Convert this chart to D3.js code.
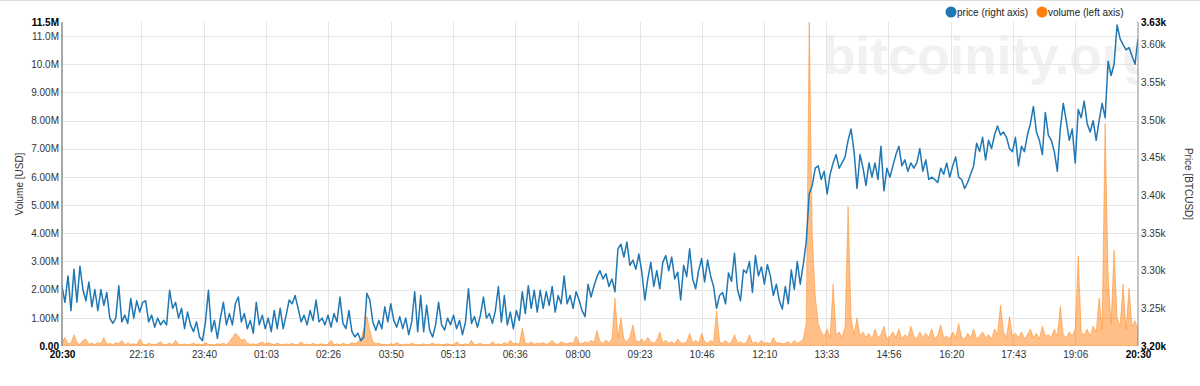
<!DOCTYPE html>
<html><head><meta charset="utf-8">
<script src="https://cdn.jsdelivr.net/npm/d3@7"></script>
<style>
html,body{margin:0;padding:0;background:#fff;}
svg{display:block;font-family:"Liberation Sans",Arial,sans-serif;}
</style></head><body>
<svg id="chart" width="1200" height="386"></svg>
<script>
// ---- data (one sample every 4 minutes, from 20:30 to 20:30 next day) ----
const stepMinutes = 4;
const timeTickLabels = ["20:30","22:16","23:40","01:03","02:26","03:50","05:13","06:36","08:00","09:23","10:46","12:10","13:33","14:56","16:20","17:43","19:06","20:30"];
const volumeTicks = [0,1e6,2e6,3e6,4e6,5e6,6e6,7e6,8e6,9e6,10e6,11e6,11.5e6];
const priceTicks = [3200,3250,3300,3350,3400,3450,3500,3550,3600,3630];
const legendLabels = ["price (right axis)","volume (left axis)"];

const price = [
3279,3258,3293,3247,3302,3258,3306,3275,3260,3285,3252,3275,3247,3275,3254,3271,3237,3230,3237,3280,
3232,3241,3230,3263,3237,3260,3245,3258,3260,3232,3241,3225,3237,3228,3234,3228,3274,3250,3258,3237,
3250,3223,3245,3228,3219,3232,3212,3207,3232,3274,3219,3234,3210,3237,3258,3228,3243,3228,3256,3265,
3232,3243,3223,3234,3217,3258,3228,3241,3223,3237,3219,3247,3223,3250,3223,3241,3261,3256,3267,3250,
3232,3241,3228,3247,3234,3261,3232,3237,3228,3241,3225,3243,3232,3265,3230,3223,3247,3219,3212,3217,
3207,3212,3270,3261,3232,3221,3234,3223,3252,3232,3256,3234,3225,3239,3223,3237,3215,3232,3272,3219,
3267,3219,3254,3221,3212,3228,3258,3228,3221,3237,3228,3241,3223,3234,3215,3232,3276,3230,3239,3225,
3241,3265,3237,3243,3230,3247,3279,3232,3267,3228,3245,3223,3247,3234,3272,3243,3280,3250,3274,3245,
3274,3250,3272,3254,3279,3245,3267,3256,3293,3256,3267,3250,3272,3261,3247,3239,3282,3265,3280,3292,
3300,3289,3296,3279,3289,3272,3329,3335,3318,3338,3307,3314,3302,3322,3298,3261,3289,3311,3279,3300,
3276,3311,3320,3300,3318,3289,3298,3261,3307,3292,3329,3289,3276,3300,3316,3285,3314,3293,3279,3250,
3267,3271,3256,3297,3286,3323,3275,3260,3301,3297,3312,3271,3320,3293,3305,3282,3308,3293,3267,3282,
3260,3249,3279,3256,3301,3275,3312,3282,3308,3338,3402,3413,3436,3439,3421,3432,3402,3428,3443,3454,
3436,3443,3451,3473,3488,3458,3409,3454,3436,3413,3443,3424,3443,3421,3465,3406,3436,3424,3439,3454,
3465,3439,3447,3432,3443,3436,3443,3462,3432,3447,3421,3424,3421,3417,3436,3428,3443,3424,3439,3451,
3424,3421,3409,3417,3428,3439,3469,3458,3477,3447,3473,3462,3480,3492,3480,3484,3477,3462,3458,3477,
3439,3465,3458,3480,3495,3518,3484,3473,3454,3510,3480,3473,3458,3432,3488,3522,3499,3473,3488,3443,
3514,3503,3525,3495,3484,3499,3473,3499,3522,3503,3578,3559,3574,3626,3608,3600,3593,3596,3585,3574,
3608
];

// volume in millions of USD
const volumeM = [
0.15,0.3,0.08,0.1,0.4,0.12,0.05,0.2,0.25,0.06, 0.1,0.05,0.12,0.08,0.3,0.06,0.1,0.04,0.12,0.08,
0.2,0.05,0.1,0.06,0.08,0.05,0.25,0.07,0.04,0.1, 0.06,0.05,0.08,0.15,0.04,0.06,0.1,0.05,0.2,0.06,
0.05,0.08,0.04,0.06,0.1,0.05,0.07,0.04,0.12,0.06, 0.05,0.04,0.08,0.06,0.1,0.05,0.15,0.3,0.45,0.35,
0.2,0.25,0.1,0.06,0.08,0.05,0.1,0.15,0.06,0.12, 0.08,0.05,0.1,0.06,0.04,0.08,0.05,0.1,0.04,0.06,
0.15,0.05,0.07,0.04,0.1,0.05,0.06,0.08,0.04,0.06, 0.2,0.05,0.08,0.04,0.1,0.06,0.05,0.12,0.08,0.15,
0.25,0.6,1.05,0.55,0.15,0.08,0.1,0.05,0.06,0.04, 0.08,0.05,0.12,0.06,0.04,0.07,0.05,0.1,0.06,0.04,
0.05,0.08,0.04,0.06,0.1,0.05,0.07,0.04,0.06,0.08, 0.05,0.04,0.15,0.06,0.05,0.08,0.04,0.2,0.05,0.06,
0.1,0.04,0.06,0.05,0.15,0.06,0.08,0.05,0.12,0.06, 0.2,0.08,0.1,0.06,0.65,0.1,0.08,0.15,0.06,0.1,
0.08,0.12,0.06,0.1,0.2,0.08,0.06,0.15,0.1,0.08, 0.12,0.1,0.35,0.1,0.08,0.15,0.1,0.2,0.12,0.55,
0.15,0.1,0.2,0.12,0.25,1.7,0.3,1.0,0.25,0.15, 0.3,0.75,0.2,0.15,0.25,0.12,0.3,0.15,0.1,0.2,
0.5,0.12,0.2,0.1,0.15,0.08,0.25,0.12,0.1,0.15, 0.45,0.12,0.2,0.1,0.45,0.15,0.1,0.2,0.12,1.25,
0.15,0.1,0.2,0.08,0.15,0.4,0.1,0.15,0.08,0.12, 0.4,0.1,0.15,0.08,0.2,0.1,0.12,0.08,0.3,0.1,
0.12,0.08,0.1,0.15,0.06,0.2,0.1,0.15,0.25,0.8, 11.5,4.0,1.8,0.8,0.5,0.35,0.6,0.3,2.2,0.4,
0.5,0.3,0.7,4.95,1.0,0.4,1.0,0.35,0.5,0.3, 0.45,0.25,0.6,0.3,0.4,0.7,0.25,0.35,0.5,0.3,
0.6,0.25,0.4,0.3,0.7,0.35,0.25,0.5,0.3,0.45, 0.3,0.6,0.25,0.4,0.75,0.3,0.35,0.25,0.5,0.3,
0.8,0.3,0.25,0.45,0.3,0.6,0.25,0.35,0.5,0.3, 0.4,0.25,0.6,0.4,1.45,0.5,0.3,1.05,0.35,0.45,
0.3,0.5,0.25,0.4,0.6,0.3,0.45,0.25,0.7,0.35, 0.4,0.3,0.6,0.35,1.4,0.4,0.3,0.5,0.35,0.6,
3.2,0.5,0.4,0.6,0.35,0.7,0.5,1.7,0.6,7.9, 2.5,0.8,3.4,1.0,0.7,2.2,0.6,2.05,0.7,0.9,
0.6
];

// ---- layout ----
const W = 1200, H = 386;
const L = 62, R = 1138, T = 22, B = 346;
const svg = d3.select("#chart");

const totalMinutes = 1440;
const x = d3.scaleLinear().domain([0, totalMinutes]).range([L, R]);
const yVol = d3.scaleLinear().domain([0, 11.5e6]).range([B, T]);
const yPrice = d3.scaleLinear().domain([3200, 3630]).range([B, T]);

function tickMinutes(label, idx) {
  if (idx === timeTickLabels.length - 1) return totalMinutes;
  const [h, m] = label.split(":").map(Number);
  let v = h * 60 + m - (20 * 60 + 30);
  if (v < 0) v += 1440;
  return v;
}
const timeTicks = timeTickLabels.map((l, i) => ({label: l, m: tickMinutes(l, i)}));

// top border
svg.append("line").attr("x1", 0).attr("x2", W).attr("y1", 0.5).attr("y2", 0.5)
  .attr("stroke", "#dedede").attr("stroke-width", 1);

svg.append("defs").append("clipPath").attr("id", "plotClip")
  .append("rect").attr("x", L).attr("y", T).attr("width", R - L).attr("height", B - T);

// watermark
svg.append("text").attr("x", 823).attr("y", 74)
  .attr("clip-path", "url(#plotClip)")
  .attr("font-size", 53).attr("font-weight", "bold").attr("fill", "#f1f1f1")
  .text("bitcoinity.org");

// gridlines
const grid = svg.append("g");
grid.selectAll("line.v").data(timeTicks.slice(1, -1)).join("line")
  .attr("x1", d => Math.round(x(d.m)) + 0.5).attr("x2", d => Math.round(x(d.m)) + 0.5)
  .attr("y1", T).attr("y2", B).attr("stroke", "#e5e5e5").attr("stroke-width", 1);
grid.selectAll("line.h").data(volumeTicks.slice(1, -1)).join("line")
  .attr("x1", L).attr("x2", R)
  .attr("y1", d => Math.round(yVol(d)) + 0.5).attr("y2", d => Math.round(yVol(d)) + 0.5)
  .attr("stroke", "#e5e5e5").attr("stroke-width", 1);

const plot = svg.append("g").attr("clip-path", "url(#plotClip)");

// volume area
const volArea = d3.area()
  .x((d, i) => x(i * stepMinutes))
  .y0(B)
  .y1(d => yVol(d * 1e6));
plot.append("path").datum(volumeM)
  .attr("d", volArea)
  .attr("fill", "#ff7f0e").attr("fill-opacity", 0.5)
  .attr("stroke", "#ff7f0e").attr("stroke-opacity", 0.45).attr("stroke-width", 1);

// price line
const priceLine = d3.line()
  .x((d, i) => x(i * stepMinutes))
  .y(d => yPrice(d));
plot.append("path").datum(price)
  .attr("d", priceLine)
  .attr("fill", "none").attr("stroke", "#1f77b4").attr("stroke-width", 1.5)
  .attr("stroke-linejoin", "round");

// axes
const fmt = d3.format(".3s");
const leftAxis = d3.axisLeft(yVol).tickValues(volumeTicks)
  .tickFormat(d => d === 0 ? "0.00" : fmt(d)).tickSize(0).tickPadding(3);
const gl = svg.append("g").attr("transform", `translate(${L},0)`).call(leftAxis);
const rightAxis = d3.axisRight(yPrice).tickValues(priceTicks)
  .tickFormat(d => fmt(d)).tickSize(0).tickPadding(3);
const gr = svg.append("g").attr("transform", `translate(${R},0)`).call(rightAxis);
const bottomAxis = d3.axisBottom(x).tickValues(timeTicks.map(d => d.m))
  .tickFormat((d, i) => timeTicks[i].label).tickSize(0).tickPadding(5);
const gb = svg.append("g").attr("transform", `translate(0,${B})`).call(bottomAxis);

[gl, gr, gb].forEach((g, k) => {
  g.select(".domain").attr("stroke", k === 2 ? "none" : "#8a8a8a").attr("stroke-width", k === 0 ? 1.5 : 1);
  const n = g.selectAll(".tick").size();
  g.selectAll(".tick text")
    .attr("font-family", "Liberation Sans, Arial, sans-serif")
    .attr("font-size", 10)
    .attr("fill", (d, i) => (i === 0 || i === n - 1) ? "#000" : "#333")
    .attr("font-weight", (d, i) => (i === 0 || i === n - 1) ? "bold" : "normal");
});
gl.select(".domain").attr("d", `M0,${T}V${B}`);
gr.select(".domain").attr("d", `M0,${T}V${B}`);

// axis titles
svg.append("text").attr("transform", `translate(23,${(T + B) / 2}) rotate(-90)`)
  .attr("text-anchor", "middle").attr("font-size", 10).attr("fill", "#333")
  .text("Volume [USD]");
svg.append("text").attr("transform", `translate(1185,${(T + B) / 2}) rotate(90)`)
  .attr("text-anchor", "middle").attr("font-size", 10).attr("fill", "#333")
  .text("Price [BTCUSD]");

// legend
const legendColors = ["#1f77b4", "#ff7f0e"];
const legendX = [951, 1042];
const lg = svg.append("g");
legendLabels.forEach((t, i) => {
  lg.append("circle").attr("cx", legendX[i]).attr("cy", 12).attr("r", 5.5).attr("fill", legendColors[i]);
  lg.append("text").attr("x", legendX[i] + 6).attr("y", 15.5).attr("font-size", 10).attr("fill", "#222").text(t);
});
</script>
</body></html>
